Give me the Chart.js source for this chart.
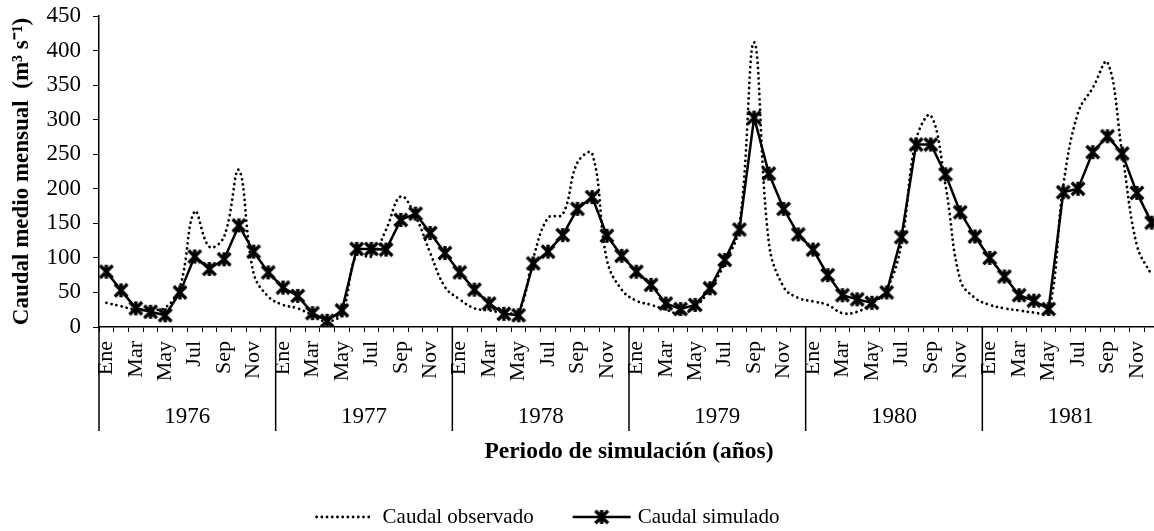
<!DOCTYPE html>
<html>
<head>
<meta charset="utf-8">
<script src="https://cdn.jsdelivr.net/npm/chart.js@4.4.1/dist/chart.umd.min.js"></script>
<style>
  html, body { margin: 0; padding: 0; background: #fff; overflow: hidden; }
  #wrap { width: 1159px; height: 531px; position: relative; }
</style>
</head>
<body>
<div id="wrap"><canvas id="c" width="1159" height="531"></canvas></div>
<script>
// ---- data ----
const years = ['1976', '1977', '1978', '1979', '1980', '1981'];
const monthNames = ['Ene', 'Feb', 'Mar', 'Abr', 'May', 'Jun', 'Jul', 'Ago', 'Sep', 'Oct', 'Nov', 'Dic'];
const yTicks = [0, 50, 100, 150, 200, 250, 300, 350, 400, 450];

const observed1976 = [35, 30, 25, 25, 28, 58, 167, 116, 131, 227, 78, 44];
const observed1977 = [32, 27, 17, 8, 20, 105, 102, 141, 189, 160, 107, 58];
const observed1978 = [40, 27, 24, 21, 22, 100, 158, 163, 238, 251, 97, 54];
const observed1979 = [38, 32, 25, 19, 29, 55, 92, 146, 412, 122, 58, 42];
const observed1980 = [37, 32, 20, 22, 34, 54, 120, 271, 306, 205, 68, 42];
const observed1981 = [32, 27, 24, 21, 21, 205, 310, 346, 383, 252, 118, 75];

const simulated1976 = [80, 53, 27, 22, 17, 50, 102, 84, 98, 147, 109, 79];
const simulated1977 = [57, 45, 20, 9, 24, 113, 113, 112, 155, 164, 136, 107];
const simulated1978 = [79, 54, 34, 19, 17, 92, 109, 133, 171, 188, 132, 103];
const simulated1979 = [80, 61, 34, 26, 32, 56, 97, 141, 303, 222, 171, 134];
const simulated1980 = [112, 75, 46, 40, 35, 50, 130, 264, 264, 221, 166, 131];
const simulated1981 = [100, 73, 46, 38, 26, 195, 200, 253, 276, 251, 194, 151];

const observed = [].concat(observed1976, observed1977, observed1978, observed1979, observed1980, observed1981);
const simulated = [].concat(simulated1976, simulated1977, simulated1978, simulated1979, simulated1980, simulated1981);
const labels = [];
years.forEach(y => monthNames.forEach(m => labels.push(m + ' ' + y)));

// ---- styling ----
const SERIF = '"Liberation Serif", "Times New Roman", serif';

function makeStar(size, lw) {
  const c = document.createElement('canvas');
  c.width = size; c.height = size;
  const g = c.getContext('2d');
  g.strokeStyle = '#000';
  g.lineWidth = lw;
  g.lineCap = 'butt';
  const p = lw / 2;
  g.beginPath();
  g.moveTo(p, p); g.lineTo(size - p, size - p);
  g.moveTo(size - p, p); g.lineTo(p, size - p);
  g.moveTo(size / 2, 1); g.lineTo(size / 2, size - 1);
  g.stroke();
  return c;
}
const star = makeStar(16, 3.4);

const decor = {
  id: 'decor',
  afterDraw(chart) {
    const ctx = chart.ctx;
    const xs = chart.scales.x;
    const area = chart.chartArea;
    const step = xs.getPixelForValue(1) - xs.getPixelForValue(0);
    ctx.save();
    ctx.strokeStyle = '#000';
    ctx.lineWidth = 1.5;
    for (let i = 0; i <= years.length; i++) {
      const x = xs.getPixelForValue(0) - step / 2 + step * 12 * i;
      ctx.beginPath();
      ctx.moveTo(x, area.bottom);
      ctx.lineTo(x, 431);
      ctx.stroke();
    }
    ctx.fillStyle = '#000';
    ctx.textAlign = 'center';
    ctx.textBaseline = 'middle';
    ctx.font = '23px ' + SERIF;
    years.forEach((y, i) => {
      const cx = (xs.getPixelForValue(12 * i) + xs.getPixelForValue(12 * i + 11)) / 2;
      ctx.fillText(y, cx, 417);
    });
    ctx.font = 'bold 23.5px ' + SERIF;
    ctx.fillText('Periodo de simulación (años)', (area.left + area.right) / 2, 452);

    // legend
    ctx.font = '21px ' + SERIF;
    const t1 = 'Caudal observado', t2 = 'Caudal simulado';
    const w1 = ctx.measureText(t1).width, w2 = ctx.measureText(t2).width;
    const total = 57 + 10 + w1 + 39 + 58 + 7 + w2;
    let x0 = 547.5 - total / 2;
    const ly = 517;
    ctx.lineWidth = 2.8;
    ctx.lineCap = 'round';
    ctx.setLineDash([0.01, 5.2]);
    ctx.beginPath(); ctx.moveTo(x0 + 1, ly); ctx.lineTo(x0 + 57, ly); ctx.stroke();
    ctx.setLineDash([]);
    ctx.textAlign = 'left';
    ctx.fillText(t1, x0 + 67, ly);
    let x1 = x0 + 67 + w1 + 39;
    ctx.lineCap = 'butt';
    ctx.lineWidth = 2.5;
    ctx.beginPath(); ctx.moveTo(x1, ly); ctx.lineTo(x1 + 58, ly); ctx.stroke();
    ctx.drawImage(star, x1 + 29 - star.width / 2, ly - star.height / 2);
    ctx.fillText(t2, x1 + 65, ly);
    ctx.restore();
  }
};

new Chart(document.getElementById('c'), {
  type: 'line',
  data: {
    labels: labels,
    datasets: [
      {
        label: 'Caudal simulado',
        data: simulated,
        borderColor: '#000',
        backgroundColor: '#000',
        borderWidth: 2.5,
        pointStyle: star,
        pointRadius: 8,
        pointHoverRadius: 8,
        tension: 0,
        fill: false,
        order: 0
      },
      {
        label: 'Caudal observado',
        data: observed,
        borderColor: '#000',
        borderWidth: 2.8,
        borderDash: [0.01, 5.2],
        borderCapStyle: 'round',
        pointRadius: 0,
        tension: 0.4,
        fill: false,
        order: 1
      }
    ]
  },
  options: {
    responsive: false,
    animation: false,
    events: [],
    layout: { autoPadding: false, padding: { top: 16, left: 0, right: 0, bottom: 0 } },
    plugins: { legend: { display: false }, tooltip: { enabled: false } },
    scales: {
      x: {
        type: 'category',
        offset: true,
        grid: { offset: true, drawOnChartArea: false, drawTicks: true, tickLength: 5, color: '#000', lineWidth: 1 },
        border: { display: true, color: '#000', width: 1.5 },
        ticks: {
          autoSkip: false, maxRotation: 90, minRotation: 90, padding: 9,
          color: '#000', font: { family: SERIF, size: 22 },
          callback: (v, i) => (i % 2 === 0 ? monthNames[i % 12] : '')
        },
        afterFit(scale) {
          scale.height = 204;
          scale.paddingLeft = 0; scale.paddingRight = 0;
          scale.paddingTop = 0; scale.paddingBottom = 0;
        }
      },
      y: {
        min: 0, max: 450,
        afterBuildTicks(scale) { scale.ticks = yTicks.map(v => ({ value: v })); },
        grid: { drawOnChartArea: false, drawTicks: true, tickLength: 6, color: '#000', lineWidth: 1 },
        border: { display: true, color: '#000', width: 1.5 },
        ticks: { color: '#000', padding: 12, font: { family: SERIF, size: 23 } },
        title: {
          display: true,
          text: 'Caudal medio mensual  (m³ s⁻¹)',
          color: '#000',
          font: { family: SERIF, size: 23, weight: 'bold' },
          padding: { top: 8, bottom: 0 }
        },
        afterFit(scale) {
          scale.width = 99;
          scale.paddingTop = 0; scale.paddingBottom = 0;
          scale.paddingLeft = 0; scale.paddingRight = 0;
        }
      }
    }
  },
  plugins: [decor]
});
</script>
</body>
</html>
